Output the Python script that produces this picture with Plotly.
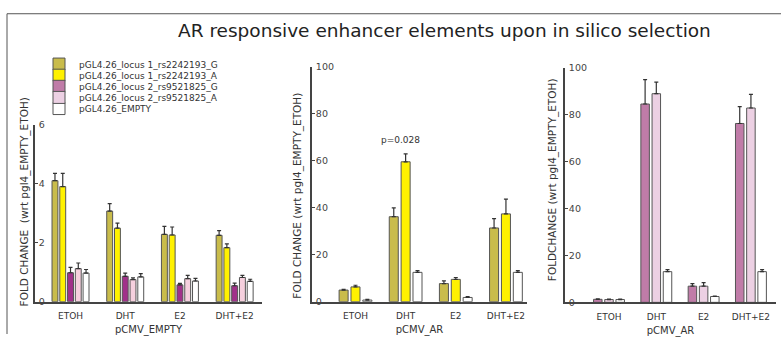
import plotly.graph_objects as go

W, H = 781, 339

categories = ["ETOH", "DHT", "E2", "DHT+E2"]

# Panel 1: pCMV_EMPTY
p1_l1_G = [4.10, 3.07, 2.28, 2.25]
p1_l1_G_err = [0.25, 0.25, 0.27, 0.16]
p1_l1_A = [3.90, 2.49, 2.26, 1.83]
p1_l1_A_err = [0.45, 0.17, 0.27, 0.13]
p1_l2_G = [0.98, 0.86, 0.57, 0.54]
p1_l2_G_err = [0.18, 0.11, 0.05, 0.09]
p1_l2_A = [1.12, 0.75, 0.78, 0.82]
p1_l2_A_err = [0.19, 0.06, 0.11, 0.07]
p1_empty = [0.97, 0.84, 0.70, 0.69]
p1_empty_err = [0.12, 0.11, 0.09, 0.07]

# Panel 2: pCMV_AR, locus 1
p2_l1_G = [4.95, 36.2, 7.7, 31.4]
p2_l1_G_err = [0.3, 3.8, 1.2, 4.0]
p2_l1_A = [6.3, 59.6, 9.5, 37.4]
p2_l1_A_err = [0.7, 3.4, 0.8, 6.3]
p2_empty = [0.7, 12.5, 1.8, 12.5]
p2_empty_err = [0.3, 0.7, 0.4, 0.7]

# Panel 3: pCMV_AR, locus 2
p3_l2_G = [1.3, 84.6, 6.9, 76.3]
p3_l2_G_err = [0.2, 10.4, 1.1, 7.2]
p3_l2_A = [1.2, 89.0, 6.9, 82.9]
p3_l2_A_err = [0.2, 4.9, 1.5, 5.8]
p3_empty = [1.2, 13.1, 2.5, 13.1]
p3_empty_err = [0.2, 0.9, 0.2, 0.9]

names = ["pGL4.26_locus 1_rs2242193_G", "pGL4.26_locus 1_rs2242193_A",
         "pGL4.26_locus 2_rs9521825_G", "pGL4.26_locus 2_rs9521825_A",
         "pGL4.26_EMPTY"]

OLIVE = "#C9BC4B"
YELLOW = "#FFF100"
PURPLE1 = "#A1318A"
PINK1 = "#F6D0DE"
PURPLE3 = "#C07CA8"
PINK3 = "#ECD0E3"
WHITE = "#FFFFFF"

FONT = "DejaVu Sans"

fig = go.Figure()


def add_bar(y, err, name, color, xa, ya, legend=None):
    fig.add_trace(go.Bar(
        x=categories, y=y, name=name,
        marker=dict(color=color, line=dict(color="#555555", width=1)),
        error_y=dict(type="data", array=err, arrayminus=[0] * len(err),
                     symmetric=False, color="#333333", thickness=1.2, width=2),
        xaxis=xa, yaxis=ya,
        showlegend=legend is not None,
        legend=legend if legend else "legend",
    ))


add_bar(p1_l1_G, p1_l1_G_err, names[0], OLIVE, "x", "y", "legend")
add_bar(p1_l1_A, p1_l1_A_err, names[1], YELLOW, "x", "y", "legend2")
add_bar(p1_l2_G, p1_l2_G_err, names[2], PURPLE1, "x", "y")
add_bar(p1_l2_A, p1_l2_A_err, names[3], PINK1, "x", "y")
add_bar(p1_empty, p1_empty_err, names[4], WHITE, "x", "y", "legend5")

add_bar(p2_l1_G, p2_l1_G_err, names[0], OLIVE, "x2", "y2")
add_bar(p2_l1_A, p2_l1_A_err, names[1], YELLOW, "x2", "y2")
add_bar(p2_empty, p2_empty_err, names[4], WHITE, "x2", "y2")

add_bar(p3_l2_G, p3_l2_G_err, names[2], PURPLE3, "x3", "y3", "legend3")
add_bar(p3_l2_A, p3_l2_A_err, names[3], PINK3, "x3", "y3", "legend4")
add_bar(p3_empty, p3_empty_err, names[4], WHITE, "x3", "y3")


def px_x(p):
    return p / W


def px_y(p):
    return 1 - p / H


axis_common = dict(showline=True, linecolor="#444444", linewidth=1.5,
                   showgrid=False, zeroline=False)

xcommon = dict(axis_common, type="category", ticks="outside", ticklen=5,
               tickcolor="rgba(0,0,0,0)",
               tickfont=dict(family=FONT, size=9, color="#333333"),
               title=dict(font=dict(family=FONT, size=10, color="#333333"), standoff=6))
ycommon = dict(axis_common, ticks="inside", ticklen=3, tickcolor="#444444",
               ticklabelposition="inside", ticklabeloverflow="allow",
               tickfont=dict(family=FONT, size=9.5, color="#444444"))

fig.update_layout(
    width=W, height=H,
    margin=dict(l=0, r=0, t=0, b=0),
    paper_bgcolor="white", plot_bgcolor="rgba(0,0,0,0)",
    barmode="group", bargap=0.29, bargroupgap=0.24,
    xaxis=dict(xcommon, domain=[px_x(35), px_x(262)], range=[-0.649, 3.50],
               anchor="y", title=dict(xcommon["title"], text="pCMV_EMPTY")),
    yaxis=dict(ycommon, domain=[px_y(305.6), px_y(122.6)], range=[0, 6],
               tickvals=[0, 2, 4, 6], anchor="x"),
    xaxis2=dict(xcommon, domain=[px_x(312), px_x(527)], range=[-0.867, 3.42],
                anchor="y2", title=dict(xcommon["title"], text="pCMV_AR")),
    yaxis2=dict(ycommon, domain=[px_y(305.6), px_y(63)], range=[0, 100],
                tickvals=[0, 20, 40, 60, 80, 100], anchor="x2"),
    xaxis3=dict(xcommon, domain=[px_x(565), px_x(776)], range=[-0.93, 3.53],
                anchor="y3", title=dict(xcommon["title"], text="pCMV_AR")),
    yaxis3=dict(ycommon, domain=[px_y(306.3), px_y(64)], range=[0, 100],
                tickvals=[0, 20, 40, 60, 80, 100], anchor="x3"),
    showlegend=True,
)

legend_rows = [60, 71.5, 83, 94.5, 106]
for i, row in enumerate(legend_rows):
    key = "legend" if i == 0 else f"legend{i + 1}"
    fig.update_layout({key: dict(x=px_x(39), xanchor="left", y=px_y(row), yanchor="middle",
                                 bgcolor="rgba(0,0,0,0)", borderwidth=0,
                                 font=dict(family=FONT, size=9, color="#333333"),
                                 itemwidth=30)})

ytitle_font = dict(family=FONT, size=10.5, color="#333333")
ann = dict(xref="paper", yref="paper", showarrow=False, xanchor="center", yanchor="middle")
fig.add_annotation(text="FOLD CHANGE  (wrt pgl4_EMPTY_ETOH)", textangle=-90,
                   x=px_x(24), y=px_y(203), font=ytitle_font, **ann)
fig.add_annotation(text="FOLD CHANGE (wrt pgl4_EMPTY_ETOH)", textangle=-90,
                   x=px_x(298), y=px_y(196), font=ytitle_font, **ann)
fig.add_annotation(text="FOLDCHANGE (wrt pgl4_EMPTY_ETOH)", textangle=-90,
                   x=px_x(552), y=px_y(180), font=ytitle_font, **ann)

fig.add_annotation(text="p=0.028", x=px_x(400), y=px_y(138),
                   font=dict(family=FONT, size=9, color="#333333"), **ann)

fig.add_annotation(text="AR responsive enhancer elements upon in silico selection",
                   x=px_x(445), y=px_y(25),
                   font=dict(family=FONT, size=18.5, color="#222222"), **ann)

# frame lines (left and top)
fig.add_shape(type="line", xref="paper", yref="paper", x0=px_x(7), x1=px_x(7),
              y0=0, y1=px_y(8), line=dict(color="#555555", width=1))
fig.add_shape(type="line", xref="paper", yref="paper", x0=px_x(7), x1=1,
              y0=px_y(8), y1=px_y(8), line=dict(color="#555555", width=1))

fig.write_html("out.html", config={"displayModeBar": False},
               post_script="document.body.style.margin='0px';")
